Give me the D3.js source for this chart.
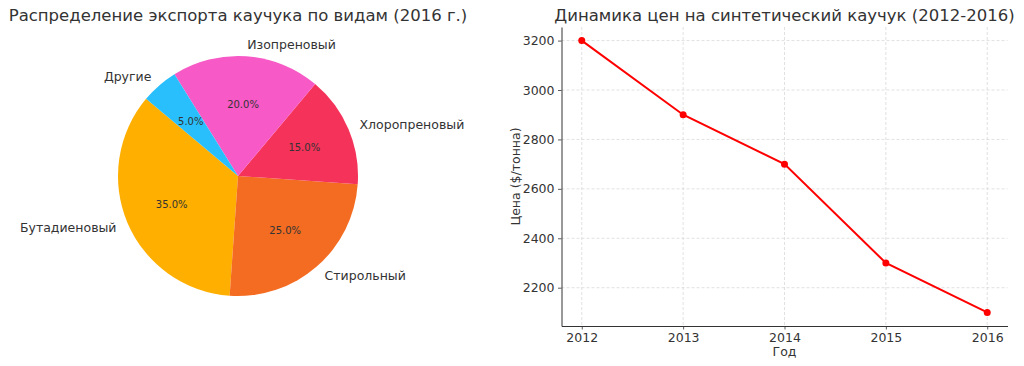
<!DOCTYPE html>
<html>
<head>
<meta charset="utf-8">
<script src="https://cdn.jsdelivr.net/npm/d3@7"></script>
<style>
  html, body { margin: 0; padding: 0; background: #fff; }
  svg { display: block; font-family: "DejaVu Sans", sans-serif; }
</style>
</head>
<body>
<svg id="chart" width="1024" height="366"></svg>
<script>
// ---- Data ----
const pieTitle = "Распределение экспорта каучука по видам (2016 г.)";
const pieCategories = ["Бутадиеновый", "Стирольный", "Хлоропреновый", "Изопреновый", "Другие"];
const pieValues = [35, 25, 15, 20, 5];
const pieColors = ["#FFAF00", "#F46C22", "#F5325A", "#F759C6", "#29BFFD"];

const lineTitle = "Динамика цен на синтетический каучук (2012-2016)";
const years = [2012, 2013, 2014, 2015, 2016];
const prices = [3200, 2900, 2700, 2300, 2100];
const yTicks = [2200, 2400, 2600, 2800, 3000, 3200];
const xLabel = "Год";
const yLabel = "Цена ($/тонна)";

const svg = d3.select("#chart");
const textColor = "#333";

// ---- Pie ----
const cx = 238, cy = 176, R = 120;
const startDeg = 140;
const pie = d3.pie().sort(null).value(d => d)
  .startAngle((90 - startDeg) * Math.PI / 180)
  .endAngle((90 - startDeg) * Math.PI / 180 - 2 * Math.PI);
const arcs = pie(pieValues);
const arc = d3.arc().innerRadius(0).outerRadius(R);
const gPie = svg.append("g").attr("transform", `translate(${cx},${cy})`);
gPie.selectAll("path").data(arcs).enter().append("path")
  .attr("d", arc)
  .attr("fill", (d, i) => pieColors[i]);

function midPoint(d, r) {
  const a = (d.startAngle + d.endAngle) / 2; // d3 angle: 0 at top, clockwise
  return [r * Math.sin(a), -r * Math.cos(a)];
}
gPie.selectAll("text.pct").data(arcs).enter().append("text")
  .attr("class", "pct")
  .attr("x", d => midPoint(d, 0.6 * R)[0])
  .attr("y", d => midPoint(d, 0.6 * R)[1])
  .attr("text-anchor", "middle")
  .attr("dominant-baseline", "central")
  .attr("font-size", 10)
  .attr("fill", textColor)
  .text(d => (d.value / d3.sum(pieValues) * 100).toFixed(1) + "%");
gPie.selectAll("text.lbl").data(arcs).enter().append("text")
  .attr("class", "lbl")
  .attr("x", d => midPoint(d, 1.1 * R)[0])
  .attr("y", d => midPoint(d, 1.1 * R)[1])
  .attr("text-anchor", d => midPoint(d, 1)[0] > 0 ? "start" : "end")
  .attr("dominant-baseline", "central")
  .attr("font-size", 12.5)
  .attr("fill", textColor)
  .text((d, i) => pieCategories[i]);

svg.append("text")
  .attr("x", cx).attr("y", 21)
  .attr("text-anchor", "middle")
  .attr("font-size", 16.5)
  .attr("fill", textColor)
  .text(pieTitle);

// ---- Line chart ----
const L = 561.5, Rt = 1007.5, T = 27, B = 326;
const x = d3.scaleLinear().domain([2011.8, 2016.2]).range([L, Rt]);
const y = d3.scaleLinear().domain([2045, 3255]).range([B, T]);

const g = svg.append("g");
// grid
g.selectAll("line.vg").data(years).enter().append("line")
  .attr("x1", d => x(d)).attr("x2", d => x(d))
  .attr("y1", T).attr("y2", B)
  .attr("stroke", "#d4d4d4").attr("stroke-width", 0.7)
  .attr("stroke-dasharray", "3,2");
g.selectAll("line.hg").data(yTicks).enter().append("line")
  .attr("x1", L).attr("x2", Rt)
  .attr("y1", d => y(d)).attr("y2", d => y(d))
  .attr("stroke", "#d4d4d4").attr("stroke-width", 0.7)
  .attr("stroke-dasharray", "3,2");

// axes
const xAxis = d3.axisBottom(x).tickValues(years).tickFormat(d3.format("d"))
  .tickSizeInner(3.5).tickSizeOuter(0).tickPadding(3.5);
const yAxis = d3.axisLeft(y).tickValues(yTicks).tickFormat(d3.format("d"))
  .tickSizeInner(3.5).tickSizeOuter(0).tickPadding(3.5);
const gx = g.append("g").attr("transform", `translate(0,${B})`).call(xAxis);
const gy = g.append("g").attr("transform", `translate(${L},0)`).call(yAxis);
[gx, gy].forEach(ax => {
  ax.attr("font-size", 12.5).attr("font-family", "DejaVu Sans, sans-serif");
  ax.select(".domain").attr("stroke", "#333").attr("stroke-width", 1);
  ax.selectAll(".tick line").attr("stroke", "#333").attr("stroke-width", 0.8);
  ax.selectAll(".tick text").attr("fill", textColor);
});

// line
const lineGen = d3.line().x((d, i) => x(years[i])).y(d => y(d));
g.append("path").datum(prices)
  .attr("d", lineGen)
  .attr("fill", "none").attr("stroke", "#FF0000").attr("stroke-width", 2);
g.selectAll("circle.pt").data(prices).enter().append("circle")
  .attr("class", "pt")
  .attr("cx", (d, i) => x(years[i])).attr("cy", d => y(d))
  .attr("r", 3.5).attr("fill", "#FF0000");

// labels
svg.append("text")
  .attr("x", (L + Rt) / 2).attr("y", 356)
  .attr("text-anchor", "middle").attr("font-size", 12.5).attr("fill", textColor)
  .text(xLabel);
svg.append("text")
  .attr("transform", `translate(520,${(T + B) / 2}) rotate(-90)`)
  .attr("text-anchor", "middle").attr("font-size", 12.5).attr("fill", textColor)
  .text(yLabel);
svg.append("text")
  .attr("x", (L + Rt) / 2).attr("y", 21)
  .attr("text-anchor", "middle").attr("font-size", 16.5).attr("fill", textColor)
  .text(lineTitle);
</script>
</body>
</html>
